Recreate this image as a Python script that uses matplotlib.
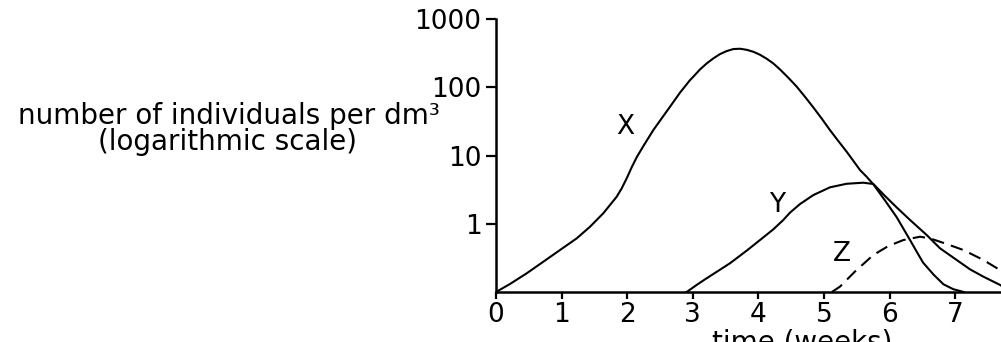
import matplotlib
matplotlib.use("Agg")
import matplotlib.pyplot as plt
from matplotlib.ticker import FixedLocator, NullLocator
from matplotlib.transforms import blended_transform_factory

# Population density of three species over time (log scale)
x_weeks = [0.00, 0.213, 0.468, 0.721, 0.976, 1.230, 1.433, 1.636, 1.738, 1.840, 1.916,
           1.992, 2.068, 2.144, 2.246, 2.398, 2.525, 2.652, 2.805, 2.957, 3.008, 3.110,
           3.211, 3.313, 3.415, 3.516, 3.618, 3.720, 3.821, 3.923, 4.024, 4.126, 4.228,
           4.329, 4.456, 4.583, 4.710, 4.837, 4.965, 5.091, 5.218, 5.346, 5.447, 5.549,
           5.650, 5.752, 5.930, 6.108, 6.311, 6.420, 6.510, 6.670, 6.820, 6.970, 7.130]
x_density = [0.10, 0.131, 0.188, 0.278, 0.413, 0.612, 0.906, 1.43, 1.89, 2.50, 3.31,
             4.64, 6.73, 9.44, 13.8, 23.7, 35.2, 52.1, 84.0, 128.0, 144.0, 184.0,
             225.0, 267.0, 309.0, 342.0, 366.0, 370.0, 357.0, 334.0, 302.0, 264.0, 225.0,
             184.0, 139.0, 103.0, 73.0, 51.0, 35.0, 23.7, 16.4, 11.4, 8.4, 6.15,
             4.9, 3.8, 2.2, 1.25, 0.58, 0.38, 0.27, 0.18, 0.13, 0.11, 0.10]

y_weeks = [2.907, 3.059, 3.211, 3.390, 3.567, 3.821, 4.024, 4.228, 4.380, 4.482, 4.634,
           4.837, 5.091, 5.346, 5.600, 5.752, 5.930, 6.108, 6.311, 6.565, 6.768, 7.022,
           7.226, 7.429, 7.683, 7.850]
y_density = [0.10, 0.127, 0.159, 0.205, 0.264, 0.404, 0.578, 0.831, 1.14, 1.46, 1.95,
             2.64, 3.43, 3.87, 4.01, 3.84, 2.56, 1.74, 1.14, 0.686, 0.438, 0.295,
             0.215, 0.168, 0.127, 0.10]

z_weeks = [5.12, 5.244, 5.473, 5.752, 5.980, 6.209, 6.463, 6.616, 6.870, 7.124, 7.429, 7.683]
z_density = [0.10, 0.12, 0.20, 0.349, 0.472, 0.578, 0.647, 0.612, 0.506, 0.413, 0.295, 0.21]

x_ticks = [0, 1, 2, 3, 4, 5, 6, 7]
y_ticks = [1, 10, 100, 1000]
y_tick_labels = ["1", "10", "100", "1000"]

plt.rcParams["font.family"] = ["DejaVu Sans"]
plt.rcParams["font.size"] = 19

W, H = 1001, 342
fig = plt.figure(figsize=(W / 100, H / 100), dpi=100)
ax = fig.add_axes([496 / W, 50 / H, 524.8 / W, 272.7 / H])

lw = 1.5
ax.plot(x_weeks, x_density, color="black", lw=lw, solid_joinstyle="round")
ax.plot(y_weeks, y_density, color="black", lw=lw, solid_joinstyle="round")
ax.plot(z_weeks, z_density, color="black", lw=lw, linestyle=(0, (6, 3.5)))

ax.set_yscale("log")
ax.set_xlim(0, 8)
ax.set_ylim(0.1, 1000)
ax.xaxis.set_major_locator(FixedLocator(x_ticks))
ax.set_xticklabels([str(t) for t in x_ticks])
ax.yaxis.set_major_locator(FixedLocator(y_ticks))
ax.yaxis.set_minor_locator(NullLocator())
ax.set_yticklabels(y_tick_labels)

for side in ("top", "right"):
    ax.spines[side].set_visible(False)
for side in ("left", "bottom"):
    ax.spines[side].set_linewidth(1.8)

ax.tick_params(axis="y", length=7, width=1.6, pad=3.5)
ax.tick_params(axis="x", length=5, width=1.6, pad=2.5)

# Curve labels
ax.text(1.97, 20.7, "X", ha="center", va="baseline")
ax.text(4.28, 1.50, "Y", ha="center", va="baseline")
ax.text(5.28, 0.285, "Z", ha="center", va="baseline")

# Axis titles
fig.text(229 / W, (H - 124) / H, "number of individuals per dm³",
         ha="center", va="baseline", fontsize=20)
fig.text(227 / W, (H - 150) / H, "(logarithmic scale)",
         ha="center", va="baseline", fontsize=20)
trans = blended_transform_factory(ax.transData, fig.transFigure)
ax.text(4.67, (H - 328) / H, "time (weeks)", transform=trans, ha="center", va="top",
        fontsize=20, clip_on=False)

fig.savefig("out.png", dpi=100)
